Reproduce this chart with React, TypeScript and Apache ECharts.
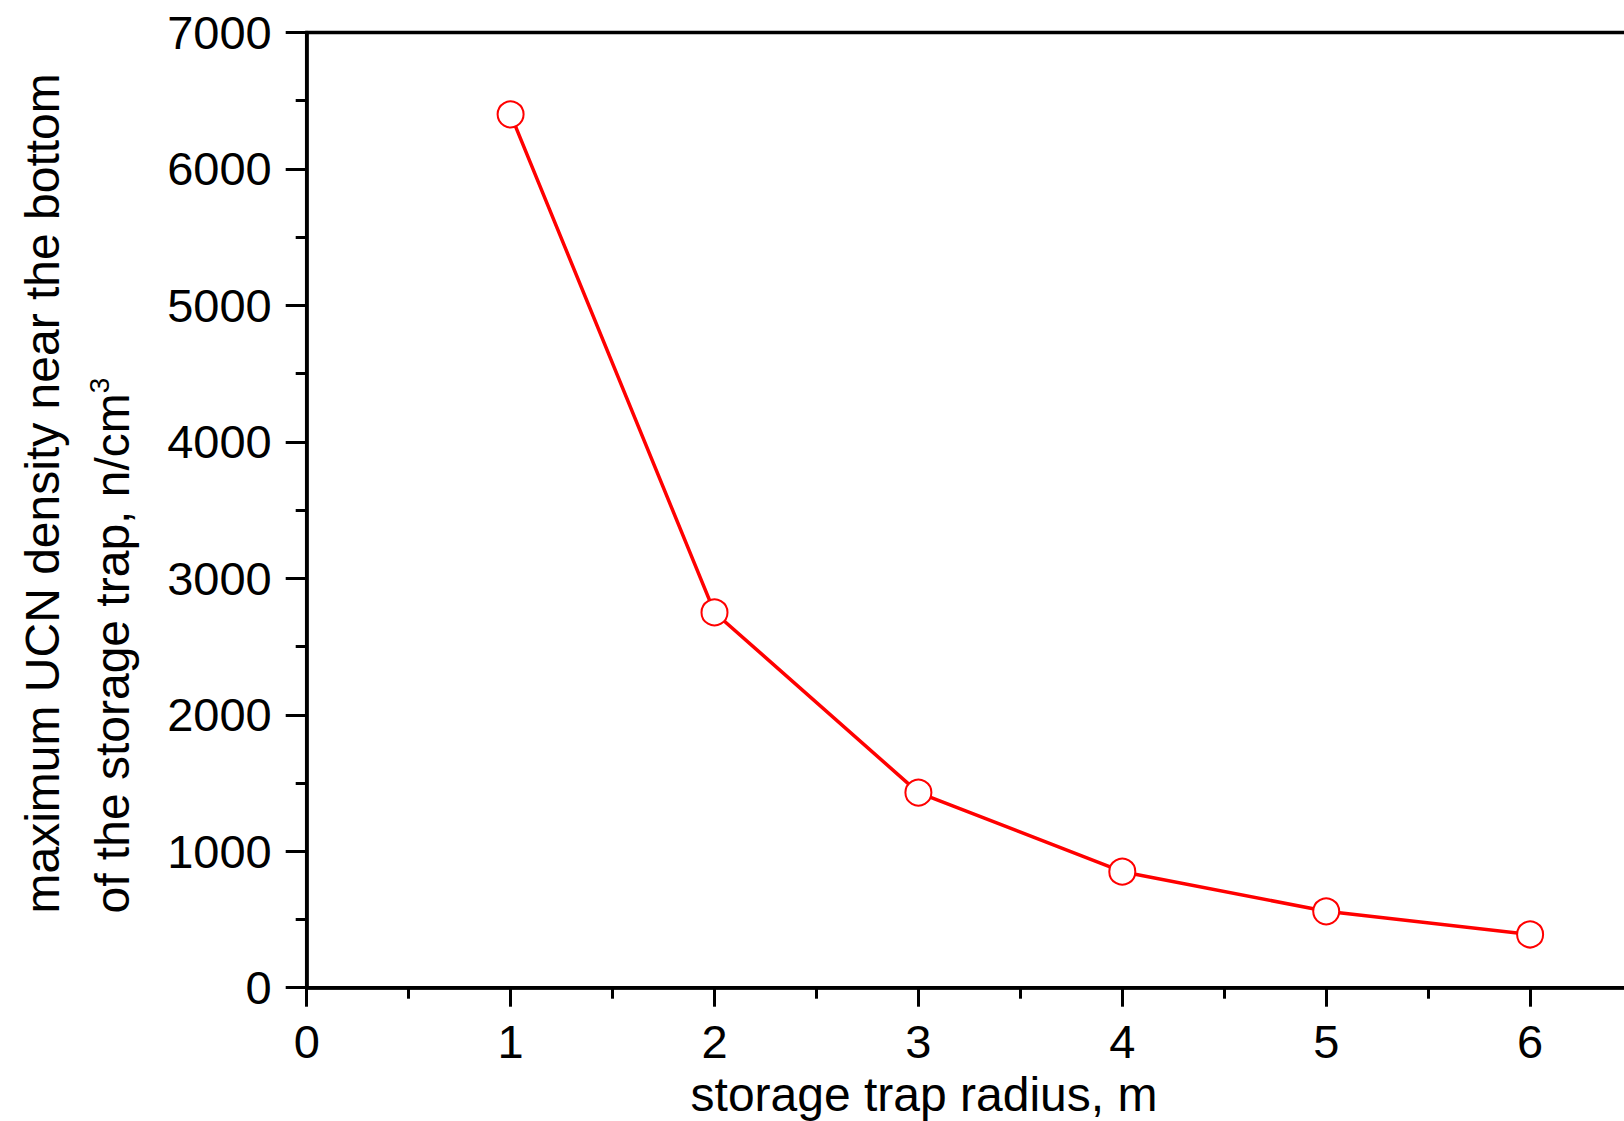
import React, { useEffect, useRef } from 'react';
import * as echarts from 'echarts';

const radius = [1, 2, 3, 4, 5, 6];
const density = [6400, 2750, 1430, 850, 560, 390];
const xLabelMax = 6;
const yTitleLine1 = 'maximum UCN density near the bottom';
const yTitleLine2 = 'of the storage trap, n/cm';
const yTitleSup = '3';
const xTitle = 'storage trap radius, m';

const FONT = '"Liberation Sans", Arial, Helvetica, sans-serif';

export default function App() {
  const ref = useRef<HTMLDivElement>(null);
  useEffect(() => {
    const chart = echarts.init(ref.current!, null, { renderer: 'svg' });
    const tickLine = { color: '#000', width: 3 };
    chart.setOption({
      animation: false,
      backgroundColor: '#fff',
      grid: {
        left: 306.7,
        right: 0,
        top: 32.5,
        bottom: 133.3,
        show: true,
        borderColor: '#000',
        borderWidth: 3.5,
        backgroundColor: 'transparent',
      },
      xAxis: {
        type: 'value',
        min: 0,
        max: 7,
        interval: 1,
        splitLine: { show: false },
        axisLine: { show: true, onZero: false, lineStyle: { color: '#000', width: 3.5 } },
        axisTick: { show: true, inside: false, length: 19, lineStyle: tickLine },
        minorTick: { show: true, splitNumber: 2, length: 11, lineStyle: tickLine },
        minorSplitLine: { show: false },
        axisLabel: {
          margin: 30,
          fontFamily: FONT,
          fontSize: 47,
          color: '#000',
          formatter: (v: number) => (v <= xLabelMax ? String(v) : ''),
        },
      },
      yAxis: {
        type: 'value',
        min: 0,
        max: 7000,
        interval: 1000,
        splitLine: { show: false },
        axisLine: { show: true, onZero: false, lineStyle: { color: '#000', width: 3.5 } },
        axisTick: { show: true, inside: false, length: 21, lineStyle: tickLine },
        minorTick: { show: true, splitNumber: 2, length: 11, lineStyle: tickLine },
        minorSplitLine: { show: false },
        axisLabel: {
          margin: 35,
          fontFamily: FONT,
          fontSize: 47,
          color: '#000',
          formatter: (v: number) => String(v),
        },
      },
      graphic: [
        {
          type: 'text',
          x: 924,
          y: 1094,
          style: {
            text: xTitle,
            font: `48px ${FONT}`,
            fill: '#000',
            align: 'center',
            verticalAlign: 'middle',
          },
        },
        {
          type: 'text',
          x: 42.5,
          y: 913.5,
          rotation: Math.PI / 2,
          style: {
            text: yTitleLine1,
            font: `48px ${FONT}`,
            fill: '#000',
            align: 'left',
            verticalAlign: 'middle',
          },
        },
        {
          type: 'text',
          x: 112,
          y: 913.5,
          rotation: Math.PI / 2,
          style: {
            text: `{a|${yTitleLine2}}{s|${yTitleSup}}`,
            fill: '#000',
            align: 'left',
            verticalAlign: 'middle',
            rich: {
              a: { fontFamily: FONT, fontSize: 48, fill: '#000', lineHeight: 54 },
              s: { fontFamily: FONT, fontSize: 28, fill: '#000', verticalAlign: 'top', lineHeight: 30 },
            },
          },
        },
      ],
      series: [
        {
          type: 'line',
          data: radius.map((r, i) => [r, density[i]]),
          symbol: 'circle',
          symbolSize: 26,
          lineStyle: { color: '#ff0000', width: 3.5 },
          itemStyle: { color: '#ffffff', borderColor: '#ff0000', borderWidth: 2 },
          z: 3,
        },
      ],
    });
    return () => chart.dispose();
  }, []);
  return (
    <div
      style={{
        position: 'fixed',
        left: 0,
        top: 0,
        width: 1624,
        height: 1121,
        overflow: 'hidden',
        background: '#fff',
      }}
    >
      <div ref={ref} style={{ width: 1737, height: 1121 }} />
    </div>
  );
}
